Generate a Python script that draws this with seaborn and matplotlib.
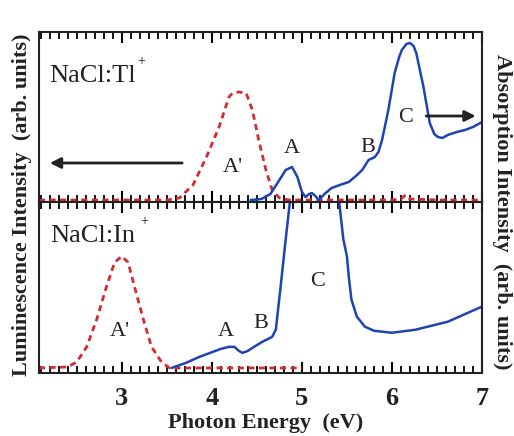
import numpy as np
import pandas as pd
import matplotlib
matplotlib.use('Agg')
import matplotlib.pyplot as plt
import seaborn as sns
from matplotlib.ticker import MultipleLocator, FixedLocator

# ---------------- data (arb. units) ----------------
# NaCl:Tl+  luminescence (red dashed)
tl_lum_x = [2.08, 2.5, 3.0, 3.5, 3.64, 3.79, 3.94, 4.08, 4.19, 4.23, 4.30, 4.38, 4.45,
            4.52, 4.60, 4.67, 4.75, 4.85, 5.2, 5.6, 6.0, 6.10, 6.15, 6.20, 6.5, 7.0]
tl_lum_y = [2, 2, 2, 2, 4, 17, 45, 75, 105, 109, 110, 109, 92,
            62, 32, 12, 4, 2, 2, 2, 2, 3, 7, 3, 2, 2]
# NaCl:Tl+  absorption (blue solid)
tl_abs_x = [4.43, 4.55, 4.65, 4.75, 4.82, 4.89, 4.95, 5.00, 5.04, 5.08, 5.11, 5.15, 5.19,
            5.25, 5.33, 5.42, 5.52, 5.60, 5.67, 5.74, 5.81, 5.85, 5.89, 5.96, 6.03, 6.08,
            6.11, 6.16, 6.20, 6.24, 6.27, 6.31, 6.35, 6.42, 6.47, 6.51, 6.56, 6.62, 6.72,
            6.81, 6.90, 7.00]
tl_abs_y = [2, 3, 8, 22, 32, 35, 25, 10, 5, 8, 9, 6, 2,
            8, 14, 17, 20, 26, 32, 42, 45, 50, 62, 92, 129, 145,
            152, 158, 159, 156, 149, 132, 115, 79, 68, 65, 64, 67, 70,
            72, 75, 80]
# NaCl:In+  luminescence (red dashed)
in_lum_x = [2.08, 2.4, 2.50, 2.61, 2.72, 2.83, 2.92, 3.00, 3.07, 3.14, 3.24, 3.33, 3.44,
            3.53, 4.0, 4.5, 5.0]
in_lum_y = [5, 6, 11, 26, 53, 86, 110, 116, 110, 86, 53, 26, 11,
            5, 5, 5, 5]
# NaCl:In+  absorption (blue solid)
in_abs_x = [3.55, 3.71, 3.86, 4.01, 4.10, 4.19, 4.25, 4.30, 4.34, 4.40, 4.45, 4.56, 4.67,
            4.71, 4.76, 4.82, 4.87, 4.92, 5.00, 5.20, 5.38, 5.41, 5.46, 5.50, 5.52, 5.55,
            5.61, 5.70, 5.80, 6.00, 6.26, 6.62, 7.00]
in_abs_y = [5, 10, 16, 21, 24, 26, 26, 22, 20, 22, 25, 31, 36,
            43, 83, 133, 173, 195, 200, 200, 195, 173, 133, 116, 96, 73,
            56, 46, 42, 40, 43, 51, 66]

xticks = [3, 4, 5, 6, 7]
xtick_labels = ['3', '4', '5', '6', '7']

RED = '#d42a30'
BLUE = '#1e44b4'
TXT = '#222222'

sns.set_style('ticks')
plt.rcParams['font.family'] = ['Liberation Serif', 'DejaVu Serif']

W, H = 514, 436
fig = plt.figure(figsize=(W / 100, H / 100), dpi=100)
L, R = 39, 482
ax_top = fig.add_axes([L / W, 1 - 202 / H, (R - L) / W, 170 / H])
ax_bot = fig.add_axes([L / W, 1 - 373 / H, (R - L) / W, 171 / H])


def draw(ax, lx, ly, axx, axy):
    sns.lineplot(x=lx, y=ly, ax=ax, color=RED, linewidth=2.0, linestyle='--')
    ax.lines[-1].set_dashes([2.2, 1.6])
    sns.lineplot(x=axx, y=axy, ax=ax, color=BLUE, linewidth=1.8)
    ax.set_xlim(2.08, 7.0)
    ax.set_ylim(0, 170)
    ax.set_yticks([])
    ax.set_xlabel('')
    ax.set_ylabel('')
    ax.xaxis.set_major_locator(FixedLocator(xticks))
    ax.xaxis.set_minor_locator(MultipleLocator(0.1))
    ax.tick_params(axis='x', which='minor', length=5, width=1.3, color='black',
                   direction='in', top=True, bottom=True)
    ax.tick_params(axis='x', which='major', length=8, width=1.5, color='black',
                   direction='in', top=True, bottom=True, pad=10)
    for s in ax.spines.values():
        s.set_linewidth(1.5)
        s.set_color('#222222')
        s.set_visible(True)


draw(ax_top, tl_lum_x, tl_lum_y, tl_abs_x, tl_abs_y)
draw(ax_bot, in_lum_x, in_lum_y, in_abs_x, in_abs_y)

ax_top.tick_params(axis='x', labelbottom=False)
ax_bot.xaxis.set_major_locator(FixedLocator(xticks))
ax_bot.set_xticklabels(xtick_labels, fontsize=19, fontweight='bold', color=TXT)

# annotations top panel
ax_top.text(2.19, 120, 'NaCl:Tl', fontsize=19, color=TXT, ha='left', va='baseline')
ax_top.text(3.17, 137, '+', fontsize=10, color=TXT, ha='left', va='baseline')
ax_top.text(4.12, 30, "A'", fontsize=16, color=TXT, ha='left', va='baseline')
ax_top.text(4.80, 49, 'A', fontsize=16, color=TXT, ha='left', va='baseline')
ax_top.text(5.65, 50, 'B', fontsize=16, color=TXT, ha='left', va='baseline')
ax_top.text(6.07, 80, 'C', fontsize=16, color=TXT, ha='left', va='baseline')
ax_top.annotate('', xy=(2.20, 39), xytext=(3.67, 39),
                arrowprops=dict(arrowstyle='-|>', color='#222222', lw=2.0,
                                mutation_scale=16, shrinkA=0, shrinkB=0))
ax_top.annotate('', xy=(6.93, 86), xytext=(6.38, 86),
                arrowprops=dict(arrowstyle='-|>', color='#222222', lw=2.0,
                                mutation_scale=16, shrinkA=0, shrinkB=0))

# annotations bottom panel
ax_bot.text(2.20, 130, 'NaCl:In', fontsize=19, color=TXT, ha='left', va='baseline')
ax_bot.text(3.20, 147, '+', fontsize=10, color=TXT, ha='left', va='baseline')
ax_bot.text(2.87, 37, "A'", fontsize=16, color=TXT, ha='left', va='baseline')
ax_bot.text(4.07, 37, 'A', fontsize=16, color=TXT, ha='left', va='baseline')
ax_bot.text(4.46, 45, 'B', fontsize=16, color=TXT, ha='left', va='baseline')
ax_bot.text(5.09, 86, 'C', fontsize=16, color=TXT, ha='left', va='baseline')

# axis titles
fig.text(266 / W, 1 - 423 / H, 'Photon Energy  (eV)', fontsize=16, fontweight='bold',
         color=TXT, ha='center', va='center')
fig.text(22 / W, 1 - 205 / H, 'Luminescence Intensity  (arb. units)', fontsize=16,
         fontweight='bold', color=TXT, ha='center', va='center', rotation=90)
fig.text(502 / W, 1 - 212 / H, 'Absorption Intensity  (arb. units)', fontsize=16,
         fontweight='bold', color=TXT, ha='center', va='center', rotation=-90)

fig.savefig('out.png', dpi=100)
